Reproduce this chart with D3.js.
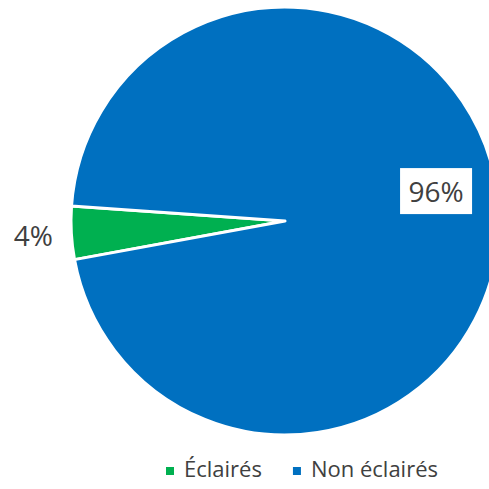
<!DOCTYPE html>
<html>
<head>
<meta charset="utf-8">
<script src="https://cdn.jsdelivr.net/npm/d3@7"></script>
<style>
  body { margin: 0; background: #fff; }
  text { font-family: "Open Sans", sans-serif; fill: #404040; }
</style>
</head>
<body>
<div id="chart"></div>
<script>
// data
const categories = ["Éclairés", "Non éclairés"];
const values = [4, 96];
const labels = ["4%", "96%"];
const colors = ["#00B050", "#0070C0"];

const width = 489, height = 489;
const cx = 285, cy = 221, radius = 214;

const svg = d3.select("#chart").append("svg")
    .attr("width", width)
    .attr("height", height);

const data = categories.map((c, i) => ({name: c, value: values[i], label: labels[i], color: colors[i]}));

// pie rotated so the small slice sits on the left
const start = 259.6 * Math.PI / 180;
const pie = d3.pie()
    .sort(null)
    .value(d => d.value)
    .startAngle(start)
    .endAngle(start + 2 * Math.PI);

const arc = d3.arc().innerRadius(0).outerRadius(radius);

const g = svg.append("g").attr("transform", `translate(${cx}, ${cy})`);

const arcs = pie(data);

g.selectAll("path.slice")
    .data(arcs)
    .enter().append("path")
    .attr("class", "slice")
    .attr("d", arc)
    .attr("fill", d => d.data.color)
    .attr("stroke", "#fff")
    .attr("stroke-width", 3)
    .attr("stroke-linejoin", "round");

const mid = d => (d.startAngle + d.endAngle) / 2;

// 4% outside
const small = arcs[0];
const pSmall = d3.pointRadial(mid(small), radius + 38);
g.append("text")
    .attr("x", pSmall[0])
    .attr("y", pSmall[1])
    .attr("text-anchor", "middle")
    .attr("dominant-baseline", "central")
    .style("font-size", "28px")
    .text(small.data.label);

// 96% inside, on a white box
const big = arcs[1];
const pBig = d3.pointRadial(mid(big) - 8 * Math.PI / 180, 154);
const bigG = g.append("g").attr("transform", `translate(${pBig[0]}, ${pBig[1]})`);
bigG.append("rect")
    .attr("fill", "#fff")
    .attr("x", -36)
    .attr("y", -23)
    .attr("width", 72)
    .attr("height", 46);
bigG.append("text")
    .attr("text-anchor", "middle")
    .attr("dominant-baseline", "central")
    .style("font-size", "28px")
    .text(big.data.label);

// legend
const legend = svg.append("g").attr("class", "legend");
let lx = 0;
const items = legend.selectAll("g.item")
    .data(data)
    .enter().append("g")
    .attr("class", "item");

items.append("rect")
    .attr("width", 8)
    .attr("height", 8)
    .attr("y", -10)
    .attr("fill", d => d.color);

items.append("text")
    .attr("x", 18)
    .attr("y", 0)
    .style("font-size", "22px")
    .text(d => d.name);

items.each(function() {
    const w = this.getBBox().width;
    d3.select(this).attr("transform", `translate(${lx}, 0)`);
    lx += w + 31;
});
const legendW = lx - 31;
legend.attr("transform", `translate(${302 - legendW / 2}, 477)`);
</script>
</body>
</html>
